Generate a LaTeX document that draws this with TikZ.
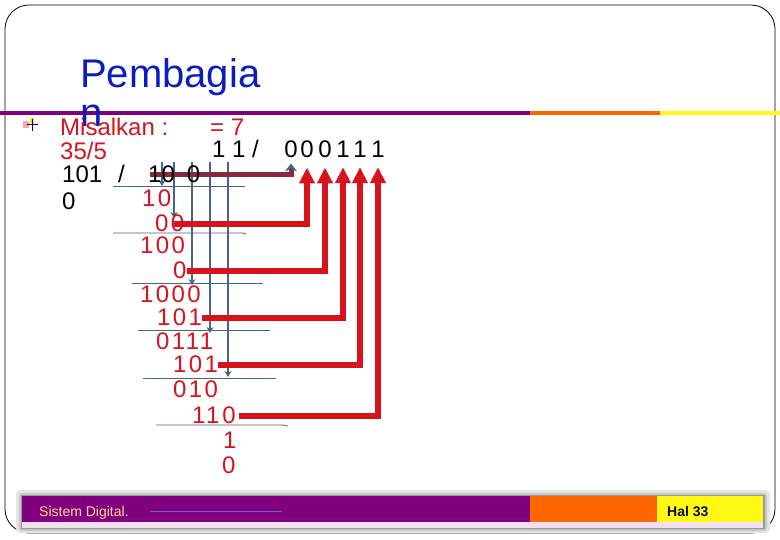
\documentclass[tikz,border=0pt]{standalone}
\usepackage{fontspec}
\setmainfont{Liberation Sans}
\newfontfamily\angkafont[LetterSpace=10]{Liberation Sans}
\usetikzlibrary{arrows.meta}

\definecolor{judul}{RGB}{10,30,190}
\definecolor{merah}{RGB}{215,20,30}
\definecolor{ungu}{RGB}{128,0,128}
\definecolor{oranye}{RGB}{255,102,0}
\definecolor{kuning}{RGB}{255,250,20}
\definecolor{garis}{RGB}{70,100,135}
\definecolor{marun}{RGB}{135,40,60}
\definecolor{krem}{RGB}{255,215,140}
\definecolor{lembayung}{RGB}{120,90,210}
\definecolor{tinta}{RGB}{10,10,60}

\pgfdeclarelayer{bawah}
\pgfsetlayers{bawah,main}

\tikzset{
	teks/.style={anchor=base west, inner sep=0pt, font=\fontsize{24}{28}\selectfont},
	angka/.style={anchor=base west, inner sep=0pt, font=\angkafont\fontsize{24}{28}\selectfont},
	sisa/.style={angka, text=merah},
	kolom/.style={draw=garis, line width=1.2pt, -{Stealth[length=6pt,width=7pt]}},
	batas/.style={draw=garis, line width=0.8pt},
	panah/.style={draw=merah, line width=6pt, -{Triangle[length=16pt,width=15pt]}},
	panahgelap/.style={draw=marun, line width=5pt, -{Stealth[length=8pt,width=12pt,color=garis]}},
}

\begin{document}
\begin{tikzpicture}[x=1pt, y=-1pt]
				\useasboundingbox (0,0) rectangle (780,540);
				
				% bingkai slide
				\draw[black, line width=0.8pt, rounded corners=24pt] (5,5) rectangle (775,533);
				
				% garis judul
				\draw[ungu, line width=4.5pt] (0,113) -- (530,113);
				\draw[oranye, line width=4.5pt] (530,113) -- (660,113);
				\draw[kuning, line width=4.5pt] (660,113) -- (780,113);
				
				\node[anchor=base west, inner sep=0pt, text=judul, font=\fontsize{40}{48}\selectfont] (judul) at (80,88) {Pembagia};
				\node[anchor=base west, inner sep=0pt, text=judul, font=\fontsize{40}{48}\selectfont] (judul2) at (80,127) {n};
				
				% bullet
				\fill[red!35] (23,121) rectangle (29,128);
				\fill[yellow!80!orange] (30,118) rectangle (34,123);
				\draw[blue!50!black, line width=1pt] (27,125) -- (38,125);
				\draw[blue!50!black, line width=1pt] (32,119) -- (32,131);
				
				\node[teks, text=merah] (misal) at (60,136) {Misalkan :};
				\node[teks, text=merah] (hasil) at (210,136) {= 7};
				\node[teks, text=merah] (soal) at (60,160) {35/5};
				
				% hasil bagi
				\node[teks] (hb) at (212,158) {1 1 /};
				\foreach \i/\x/\d in {1/291/0, 2/307/0, 3/325/0, 4/343/1, 5/360/1, 6/378/1}
					\node[anchor=base, inner sep=0pt, font=\fontsize{24}{28}\selectfont] (q\i) at (\x,158) {\d};
				
				\node[teks] (pembagi) at (62,183) {101};
				\node[teks] (miring) at (118,183) {/};
				\node[teks] (bil) at (148,183) {10\hspace{12pt}0};
				\node[teks] (nol) at (62,210) {0};
				
				% kolom turun
				\coordinate (k1) at (162,162);
				\coordinate (k2) at (174,162);
				\coordinate (k3) at (192,162);
				\coordinate (k4) at (210,162);
				\coordinate (k5) at (228,162);
				
				% baris sisa
				\node[sisa] (r10) at (142,207) {10};
				\node[sisa] (r00) at (155,232) {00};
				\node[sisa] (r100) at (140,254) {100};
				\node[sisa] (r0a) at (173,279) {0};
				\node[sisa] (r1000) at (140,303) {1000};
				\node[sisa] (r101a) at (157,326) {101};
				\node[sisa] (r0111) at (156,350) {0111};
				\node[sisa] (r101b) at (173,373) {101};
				\node[sisa] (r010) at (173,398) {010};
				\node[sisa] (r110) at (192,424) {11\hspace{3pt}0};
				\node[sisa] (r1) at (223,448) {1};
				\node[sisa] (r0b) at (222,473) {0};
				
				\begin{pgfonlayer}{bawah}
				\draw[kolom] (k1) -- ([yshift=4pt]k1 |- r10.north);
				\draw[kolom] (k2) -- ([yshift=-3pt]k2 |- r00.north);
				\draw[kolom] (k3) -- ([yshift=1pt]k3 |- r1000.north);
				\draw[kolom] (k4) -- (k4 |- r0111.north);
				\draw[kolom] (k5) -- ([yshift=4pt]k5 |- r010.north);
				
				\draw[batas] (113,186) -- (245,186);
				\draw[batas] (113,233) -- (243,233) -- (246,234);
				\draw[batas] (132,283) -- (263,283);
				\draw[batas] (138,330) -- (270,330);
				\draw[batas] (143,378) -- (276,378);
				\draw[batas] (156,425) -- (283,425) -- (288,426);
				
				% panah ke hasil bagi
				\draw[panahgelap] ([xshift=2pt]bil.west) -| ([yshift=-5pt]q1.south);
				\draw[panah] ([xshift=-10pt]r00.east) -| ([yshift=-9pt]q2.south);
				\draw[panah] (r0a.east) -| ([yshift=-9pt]q3.south);
				\draw[panah] (r101a.east) -| ([yshift=-9pt]q4.south);
				\draw[panah] (r101b.east) -| ([yshift=-9pt]q5.south);
				\draw[panah] ([xshift=3pt]r110.east) -| ([yshift=-9pt]q6.south);
				\end{pgfonlayer}
				
				% footer
				\fill[black!10, rounded corners=4pt] (16,490) rectangle (770,533);
				\fill[black!22, rounded corners=3pt] (19,493) rectangle (767,531);
				\fill[black!40] (21,495) rectangle (765,529);
				\fill[ungu!12] (22,521) rectangle (763,528);
				\fill[ungu] (22,496) rectangle (530,522);
				\fill[oranye] (530,496) rectangle (657,522);
				\fill[kuning] (657,496) rectangle (763,522);
				\node[anchor=base west, inner sep=0pt, text=krem, font=\fontsize{14}{16}\selectfont] (kaki) at (39,516) {Sistem Digital.};
				\draw[lembayung, line width=0.6pt] (150,511) -- (282,511);
				\node[anchor=base west, inner sep=0pt, text=tinta, font=\bfseries\fontsize{14}{16}\selectfont] (hal) at (667,516) {Hal 33};
			\end{tikzpicture}
\end{document}
